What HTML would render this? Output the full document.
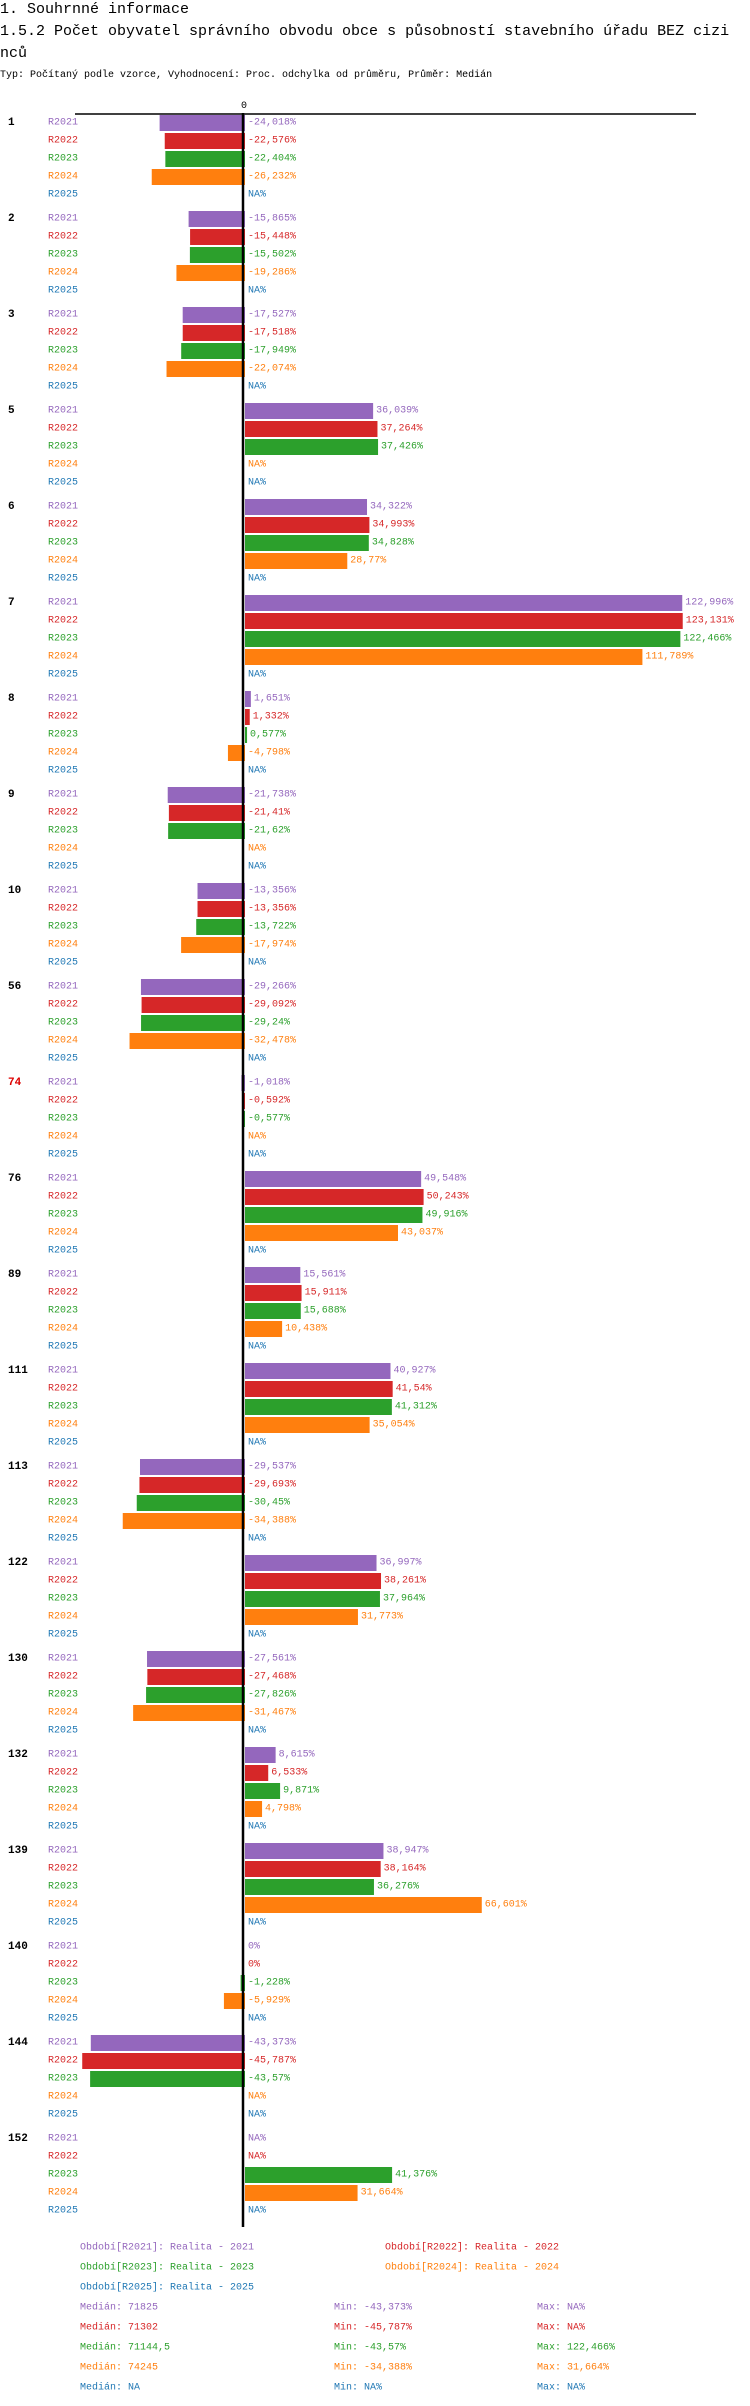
<!DOCTYPE html>
<html><head><meta charset="utf-8"><style>
body{margin:0;background:#fff;width:750px;height:2406px;overflow:hidden}
svg{display:block}
text{font-family:"Liberation Mono",monospace}
</style></head><body>
<svg id="c" width="750" height="2406">
<text x="0" y="13" font-size="15">1. Souhrnné informace</text>
<text x="0" y="35" font-size="15">1.5.2 Počet obyvatel správního obvodu obce s působností stavebního úřadu BEZ cizi</text>
<text x="0" y="57" font-size="15">nců</text>
<text x="0" y="77" font-size="10">Typ: Počítaný podle vzorce, Vyhodnocení: Proc. odchylka od průměru, Průměr: Medián</text>
</svg>
<script>
const groups=["1","2","3","5","6","7","8","9","10","56","74","76","89","111","113","122","130","132","139","140","144","152"];
const series=["R2021","R2022","R2023","R2024","R2025"];
const colors=["#9467bd","#d62728","#2ca02c","#ff7f0e","#1f77b4"];
const v2021=[-24.018,-15.865,-17.527,36.039,34.322,122.996,1.651,-21.738,-13.356,-29.266,-1.018,49.548,15.561,40.927,-29.537,36.997,-27.561,8.615,38.947,0,-43.373,null];
const v2022=[-22.576,-15.448,-17.518,37.264,34.993,123.131,1.332,-21.41,-13.356,-29.092,-0.592,50.243,15.911,41.54,-29.693,38.261,-27.468,6.533,38.164,0,-45.787,null];
const v2023=[-22.404,-15.502,-17.949,37.426,34.828,122.466,0.577,-21.62,-13.722,-29.24,-0.577,49.916,15.688,41.312,-30.45,37.964,-27.826,9.871,36.276,-1.228,-43.57,41.376];
const v2024=[-26.232,-19.286,-22.074,null,28.77,111.789,-4.798,null,-17.974,-32.478,null,43.037,10.438,35.054,-34.388,31.773,-31.467,4.798,66.601,-5.929,null,31.664];
const v2025=[null,null,null,null,null,null,null,null,null,null,null,null,null,null,null,null,null,null,null,null,null,null];
const values=[v2021,v2022,v2023,v2024,v2025];
const zeroX=245, pxPer=3.555;
const xs=v=>zeroX+v*pxPer;
const ys=(g,r)=>123+g*96+r*18;
const svg=document.getElementById('c');
const NS='http://www.w3.org/2000/svg';
function mk(t,a){const e=document.createElementNS(NS,t);for(const k in a)e.setAttribute(k,a[k]);svg.appendChild(e);return e;}
function fmt(v){return v===null?'NA%':(String(v).replace('.',',')+'%');}
let e=mk('line',{x1:75,x2:696,y1:114,y2:114,stroke:'#000','stroke-width':1.5});


e=mk('text',{x:244,y:108,'font-size':10,'text-anchor':'middle'});e.textContent='0';


groups.forEach((gname,g)=>{
  let t=mk('text',{x:8,y:ys(g,0),'font-size':11,'font-weight':'bold','dominant-baseline':'central',fill:gname==='74'?'#d00':'#000'});
  t.textContent=gname;
  
  
  series.forEach((s,r)=>{
    const y=ys(g,r),v=values[r][g];
    let l=mk('text',{x:48,y:y,'font-size':10,'dominant-baseline':'central',fill:colors[r]});
    l.textContent=s;
    
    
    let lx=zeroX+3;
    if(v!==null){
      const x0=Math.min(xs(0),xs(v)),w=Math.abs(xs(v)-xs(0));
      let b=mk('rect',{x:x0,y:y-8,width:w,height:16,fill:colors[r]});
      
      
      if(v>0)lx=xs(v)+3;
    }
    let vt=mk('text',{x:lx,y:y,'font-size':10,'dominant-baseline':'central',fill:colors[r]});
    vt.textContent=fmt(v);
    
    
  });
});
e=mk('line',{x1:243,x2:243,y1:113,y2:2227,stroke:'#000','stroke-width':2.5});


const legendRows=[
 [80,2248,0,'Období[R2021]: Realita - 2021'],[385,2248,1,'Období[R2022]: Realita - 2022'],
 [80,2268,2,'Období[R2023]: Realita - 2023'],[385,2268,3,'Období[R2024]: Realita - 2024'],
 [80,2288,4,'Období[R2025]: Realita - 2025']];
legendRows.forEach(a=>{let t=mk('text',{x:a[0],y:a[1],'font-size':10,'dominant-baseline':'central',fill:colors[a[2]]});t.textContent=a[3];

});
const medians=['71825','71302','71144,5','74245','NA'];
const mins=['-43,373%','-45,787%','-43,57%','-34,388%','NA%'];
const maxs=['NA%','NA%','122,466%','31,664%','NA%'];
for(let i=0;i<5;i++){
  const y=2308+i*20;
  [[80,'Medián: '+medians[i]],[334,'Min: '+mins[i]],[537,'Max: '+maxs[i]]].forEach(a=>{
    let t=mk('text',{x:a[0],y:y,'font-size':10,'dominant-baseline':'central',fill:colors[i]});t.textContent=a[1];
    
    
  });
}
</script>
</body></html>
